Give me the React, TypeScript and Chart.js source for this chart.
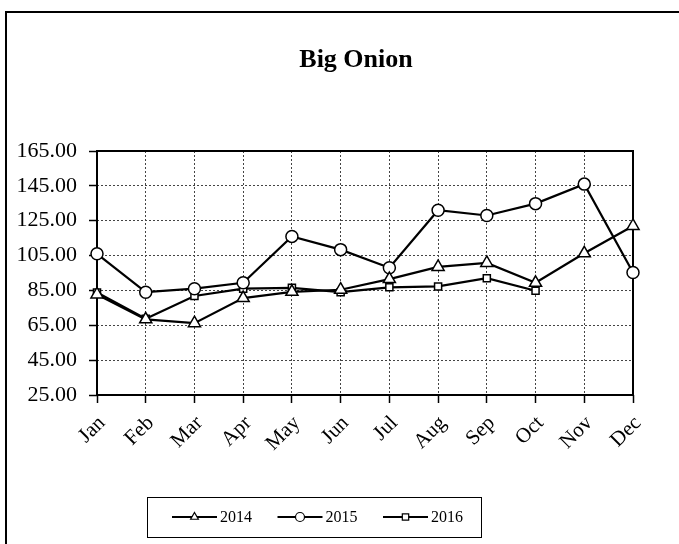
import { useEffect, useRef } from "react";
import { Chart, registerables } from "chart.js";

Chart.register(...registerables);

const chartTitle = "Big Onion";
const months = ["Jan", "Feb", "Mar", "Apr", "May", "Jun", "Jul", "Aug", "Sep", "Oct", "Nov", "Dec"];
const seriesNames = ["2014", "2015", "2016"];
const values2014 = [82.7, 68.4, 66.2, 80.6, 84.2, 85.4, 91.5, 98.5, 100.8, 89.4, 106.3, 122.0];
const values2015 = [106.0, 84.0, 86.0, 89.4, 116.0, 108.4, 98.0, 131.0, 128.0, 134.8, 146.0, 95.3];
const values2016 = [83.8, 68.8, 81.8, 86.0, 86.5, 84.0, 86.8, 87.3, 92.0, 84.8, null, null];
const seriesStyles = ["triangle", "circle", "rect"];
const yMin = 25;
const yMax = 165;
const yStep = 20;

const FONT = "'Liberation Serif', 'Times New Roman', serif";

function drawMarker(ctx: CanvasRenderingContext2D, style: string, x: number, y: number, r: number) {
  ctx.beginPath();
  if (style === "circle") {
    ctx.arc(x, y, r, 0, Math.PI * 2);
  } else if (style === "rect") {
    const s = r * Math.SQRT1_2;
    ctx.rect(x - s, y - s, 2 * s, 2 * s);
  } else {
    ctx.moveTo(x, y - r);
    ctx.lineTo(x + r * 0.866, y + r * 0.5);
    ctx.lineTo(x - r * 0.866, y + r * 0.5);
    ctx.closePath();
  }
  ctx.fillStyle = "#fff";
  ctx.fill();
  ctx.stroke();
}

const decorPlugin = {
  id: "decor",
  beforeDraw(chart: any) {
    const ctx = chart.ctx as CanvasRenderingContext2D;
    ctx.save();
    ctx.fillStyle = "#fff";
    ctx.fillRect(0, 0, chart.width, chart.height);
    ctx.strokeStyle = "#000";
    ctx.lineWidth = 2;
    ctx.strokeRect(6, 12, chart.width + 20, chart.height + 20);
    ctx.fillStyle = "#000";
    ctx.font = `bold 26px ${FONT}`;
    ctx.textAlign = "center";
    ctx.textBaseline = "alphabetic";
    ctx.fillText(chartTitle, 356, 67);
    ctx.restore();
  },
  beforeDatasetsDraw(chart: any) {
    const ctx = chart.ctx as CanvasRenderingContext2D;
    const a = chart.chartArea;
    ctx.save();
    ctx.strokeStyle = "#000";
    ctx.lineWidth = 2;
    ctx.strokeRect(a.left, a.top, a.right - a.left, a.bottom - a.top);
    ctx.restore();
  },
  afterDraw(chart: any) {
    const ctx = chart.ctx as CanvasRenderingContext2D;
    ctx.save();
    ctx.strokeStyle = "#000";
    ctx.lineWidth = 1;
    ctx.strokeRect(147.5, 497.5, 334, 40);
    const yc = 517;
    chart.data.datasets.forEach((ds: any, i: number) => {
      const x0 = 172 + i * 105.5;
      ctx.strokeStyle = "#000";
      ctx.lineWidth = 2;
      ctx.beginPath();
      ctx.moveTo(x0, yc);
      ctx.lineTo(x0 + 45, yc);
      ctx.stroke();
      ctx.lineWidth = 1.2;
      drawMarker(ctx, ds.pointStyle, x0 + 22.5, yc, 4.5);
      ctx.fillStyle = "#000";
      ctx.font = `16px ${FONT}`;
      ctx.textAlign = "left";
      ctx.textBaseline = "middle";
      ctx.fillText(ds.label, x0 + 48, yc + 1);
    });
    ctx.restore();
  },
};

export default function App() {
  const ref = useRef<HTMLCanvasElement | null>(null);

  useEffect(() => {
    document.body.style.margin = "0";
    const canvas = ref.current;
    if (!canvas) return;
    const allValues = [values2014, values2015, values2016];
    const chart = new Chart(canvas, {
      type: "line",
      data: {
        labels: months,
        datasets: seriesNames.map((name, i) => ({
          label: name,
          data: allValues[i],
          borderColor: "#000",
          borderWidth: 2.2,
          backgroundColor: "#fff",
          pointStyle: seriesStyles[i],
          pointRadius: i === 0 ? 7 : i === 2 ? 5 : 6,
          pointBorderWidth: 1.5,
          pointBorderColor: "#000",
          pointBackgroundColor: "#fff",
          tension: 0,
          fill: false,
          spanGaps: false,
          clip: false,
        })) as any,
      },
      options: {
        animation: false,
        responsive: false,
        devicePixelRatio: 1,
        layout: { padding: { top: 151, right: 46, left: 0, bottom: 0 } },
        plugins: {
          legend: { display: false },
          title: { display: false },
          tooltip: { enabled: false },
        },
        scales: {
          x: {
            type: "category",
            offset: false,
            grid: {
              display: true,
              offset: false,
              color: "#444",
              lineWidth: 1,
              drawTicks: true,
              tickLength: 8,
              tickColor: "#000",
              tickWidth: 1.5,
            },
            border: { display: false, dash: [2, 2] },
            ticks: {
              autoSkip: false,
              maxRotation: 45,
              minRotation: 45,
              padding: 8,
              labelOffset: 5,
              color: "#000",
              font: { family: FONT, size: 21 },
            },
            afterFit(scale: any) {
              scale.height = 149;
            },
          },
          y: {
            type: "linear",
            min: yMin,
            max: yMax,
            grid: {
              display: true,
              color: "#444",
              lineWidth: 1,
              drawTicks: true,
              tickLength: 8,
              tickColor: "#000",
              tickWidth: 1.5,
            },
            border: { display: false, dash: [2, 2] },
            ticks: {
              stepSize: yStep,
              padding: 12,
              color: "#000",
              font: { family: FONT, size: 22 },
              callback: (v: any) => Number(v).toFixed(2),
            },
            afterFit(scale: any) {
              scale.width = 97;
            },
          },
        },
      },
      plugins: [decorPlugin],
    } as any);
    return () => chart.destroy();
  }, []);

  return <canvas ref={ref} width={679} height={544} style={{ display: "block", width: 679, height: 544 }} />;
}
